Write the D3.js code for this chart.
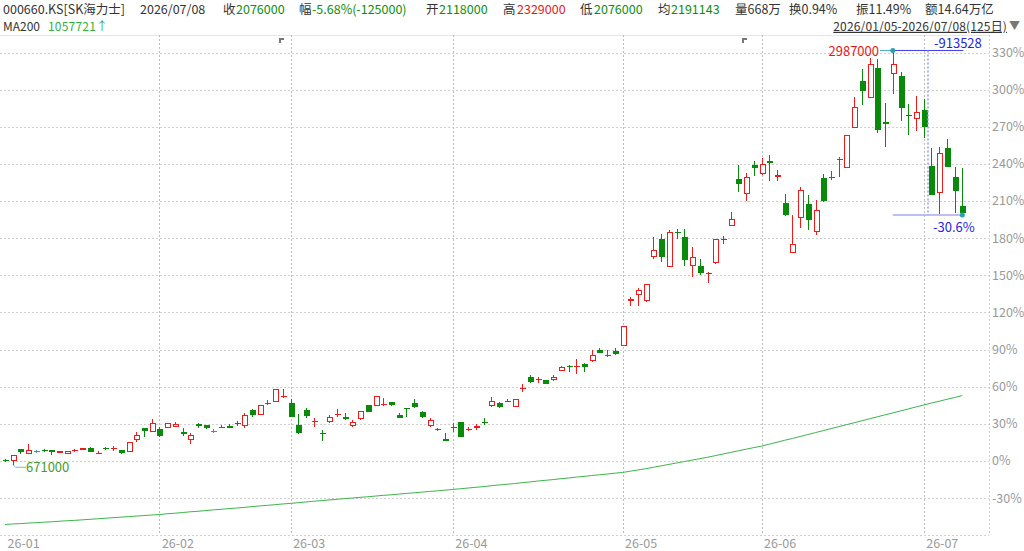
<!DOCTYPE html>
<html>
<head>
<meta charset="utf-8">
<script src="https://cdn.jsdelivr.net/npm/d3@7"></script>
<style>
  body { margin: 0; background: #fff; }
  svg { display: block; font-family: "Noto Sans CJK SC", "Noto Sans", sans-serif; }
</style>
</head>
<body>
<svg id="chart" width="1024" height="551"></svg>
<script>
// daily OHLC (KRW), 2026/01/05 - 2026/07/08, 125 sessions
const opens = [697000,693000,757000,731000,746000,753000,753000,736000,732000,752000,753000,764000,738000,764000,762000,753000,742000,807000,876000,854000,
  869000,876000,884000,852000,807000,897000,893000,859000,883000,886000,902000,889000,977000,949000,1017000,1024000,1048000,
  1016000,893000,977000,917000,848000,910000,952000,936000,889000,925000,1005000,999000,1010000,1022000,949000,990000,1014000,964000,889000,868000,815000,
  883000,908000,870000,875000,911000,1001000,1014000,1026000,996000,1098000,1160000,1143000,1145000,1143000,1195000,1225000,1223000,1233000,1250000,1311000,1283000,1307000,
  1335000,1586000,1618000,1584000,1830000,1935000,1778000,1970000,1944000,1780000,1783000,1740000,1798000,1935000,2006000,2271000,2185000,2347000,
  2296000,2371000,2280000,2136000,1854000,2048000,2131000,1970000,2272000,2281000,2381000,2330000,2554000,2815000,2722000,2890000,2588000,2857000,2842000,2625000,2605000,
  2655000,2343000,2192000,2442000,2280000,2118000];
const highs = [703000,726000,760000,787000,753000,760000,754000,748000,748000,760000,767000,768000,749000,772000,775000,755000,801000,854000,878000,925000,
  880000,904000,908000,875000,848000,902000,896000,872000,891000,899000,915000,959000,981000,1005000,1033000,1095000,1093000,
  1037000,953000,990000,935000,865000,949000,983000,959000,921000,973000,1007000,1057000,1042000,1024000,962000,991000,1039000,971000,930000,875000,850000,
  902000,910000,884000,897000,930000,1051000,1022000,1037000,1039000,1121000,1171000,1160000,1147000,1171000,1221000,1229000,1263000,1238000,1313000,1322000,1313000,1322000,
  1446000,1608000,1659000,1683000,1944000,1961000,1985000,1989000,1989000,1888000,1823000,1746000,1935000,1948000,2082000,2349000,2300000,2371000,
  2386000,2401000,2321000,2183000,2065000,2222000,2177000,2153000,2297000,2315000,2394000,2517000,2728000,2881000,2943000,2937000,2694000,2987000,2866000,2689000,2731000,
  2713000,2442000,2446000,2493000,2336000,2329000];
const lows = [688000,671000,731000,729000,736000,740000,725000,734000,731000,744000,752000,741000,729000,753000,747000,733000,740000,800000,824000,852000,
  828000,874000,880000,833000,788000,875000,872000,847000,876000,876000,889000,878000,940000,947000,1003000,1022000,1046000,
  936000,843000,932000,884000,805000,902000,940000,921000,884000,923000,966000,997000,1001000,1001000,930000,936000,987000,930000,880000,861000,804000,
  856000,826000,859000,865000,893000,992000,988000,1022000,994000,1078000,1130000,1130000,1122000,1141000,1193000,1191000,1180000,1191000,1248000,1295000,1276000,1283000,
  1333000,1556000,1561000,1582000,1821000,1802000,1776000,1933000,1783000,1723000,1733000,1686000,1796000,1905000,2004000,2194000,2143000,2283000,
  2291000,2255000,2255000,2063000,1852000,1992000,1985000,1957000,2141000,2265000,2281000,2328000,2552000,2681000,2720000,2526000,2446000,2741000,2591000,2513000,2535000,
  2498000,2179000,2074000,2336000,2076000,2076000];
const closes = [696000,725000,744000,753000,746000,747000,740000,746000,747000,753000,766000,742000,739000,757000,763000,735000,800000,837000,861000,906000,
  830000,902000,897000,841000,837000,886000,875000,859000,884000,878000,897000,947000,949000,1003000,1018000,1093000,1055000,
  938000,847000,941000,918000,847000,936000,953000,928000,910000,971000,968000,1055000,1011000,1003000,934000,987000,992000,936000,919000,869000,805000,
  884000,828000,871000,886000,910000,1029000,996000,1025000,1037000,1099000,1132000,1151000,1124000,1160000,1219000,1224000,1224000,1219000,1285000,1298000,1284000,1289000,
  1444000,1597000,1649000,1681000,1873000,1832000,1972000,1969000,1817000,1832000,1742000,1741000,1933000,1934000,2045000,2239000,2280000,2328000,
  2353000,2356000,2293000,2065000,1907000,2209000,2041000,2097000,2143000,2282000,2382000,2515000,2672000,2759000,2909000,2545000,2577000,2909000,2666000,2624000,2644000,
  2558000,2181000,2414000,2338000,2201000,2076000];
// MA200, one value per session
const ma200 = [337000,340000,342000,345000,347000,350000,352000,355000,358000,360000,363000,366000,369000,372000,375000,378000,381000,384000,387000,390000,
  393000,397000,400000,404000,408000,411000,415000,419000,422000,426000,429000,433000,437000,441000,444000,448000,452000,
  455000,459000,463000,467000,471000,474000,478000,482000,485000,489000,492000,496000,500000,503000,507000,511000,514000,518000,522000,525000,529000,
  533000,537000,541000,545000,549000,554000,558000,562000,566000,571000,575000,580000,584000,588000,593000,597000,602000,606000,611000,615000,619000,624000,
  628000,635000,642000,649000,657000,665000,673000,681000,689000,697000,705000,713000,722000,731000,740000,749000,758000,767000,
  775000,786000,797000,808000,818000,829000,840000,851000,862000,873000,884000,895000,906000,917000,928000,939000,950000,961000,972000,983000,994000,
  1005000,1016000,1026000,1037000,1047000,1057721];

const monthLabels = ["26-01", "26-02", "26-03", "26-04", "26-05", "26-06", "26-07"];
const monthDays = [20, 17, 21, 22, 18, 21, 6];
const pctTicks = [-0.3, 0, 0.3, 0.6, 0.9, 1.2, 1.5, 1.8, 2.1, 2.4, 2.7, 3.0, 3.3];
const basePrice = 692000;

const headerItems = [
  {t: "000660.KS[SK海力士]", x: 3, c: "#333"},
  {t: "2026/07/08", x: 140, c: "#333"},
  {t: "收", x: 223, c: "#333"}, {t: "2076000", x: 236, c: "#0a8f0a"},
  {t: "幅", x: 299, c: "#333"}, {t: "-5.68%(-125000)", x: 312, c: "#0a8f0a"},
  {t: "开", x: 426, c: "#333"}, {t: "2118000", x: 439, c: "#0a8f0a"},
  {t: "高", x: 503, c: "#333"}, {t: "2329000", x: 517, c: "#e81818"},
  {t: "低", x: 580, c: "#333"}, {t: "2076000", x: 594, c: "#0a8f0a"},
  {t: "均", x: 658, c: "#333"}, {t: "2191143", x: 671, c: "#0a8f0a"},
  {t: "量668万", x: 735, c: "#333"},
  {t: "换0.94%", x: 789, c: "#333"},
  {t: "振11.49%", x: 856, c: "#333"},
  {t: "额14.64万亿", x: 925, c: "#333"}
];
const peakLabel = "2987000", dropLabel = "-913528", dropPctLabel = "-30.6%";

const RED = "#f01c1c", GREEN = "#0a8a0a", FLAT = "#4a8db5";
const plotRight = 989, plotTop = 35, plotBottom = 535;

const svg = d3.select("#chart");

const x = d3.scaleLinear().domain([0, closes.length - 1]).range([5, 962.3]);
const y = d3.scaleLinear().domain([basePrice, basePrice * 4.3]).range([461, 52.5]);
const px = v => Math.round(v) + 0.5;

// header
svg.append("g").selectAll("text")
  .data(headerItems)
  .join("text")
    .attr("x", d => d.x).attr("y", 9.6).attr("dy", "0.35em")
    .style("font-size", "12.5px").style("fill", d => d.c)
    .text(d => d.t);

svg.append("text").attr("x", 3).attr("y", 26.6).attr("dy", "0.35em")
  .style("font-size", "12px").style("fill", "#333").text("MA200");
svg.append("text").attr("x", 48).attr("y", 26.6).attr("dy", "0.35em")
  .style("font-size", "12px").style("letter-spacing", "0.2px").style("fill", "#2fb23f")
  .text(`${ma200[ma200.length - 1]}↑`);

svg.append("text").attr("x", 1007).attr("y", 26.6).attr("dy", "0.35em")
  .attr("text-anchor", "end").attr("text-decoration", "underline")
  .style("font-size", "12px").style("letter-spacing", "0.15px").style("fill", "#333")
  .text("2026/01/05-2026/07/08(125日)");
svg.append("text").attr("x", 1009).attr("y", 26.6).attr("dy", "0.35em")
  .style("font-size", "11px").style("fill", "#777").text("▼");

// grid
const grid = svg.append("g").attr("shape-rendering", "crispEdges");
grid.append("line").attr("x1", 0).attr("x2", plotRight).attr("y1", px(plotTop)).attr("y2", px(plotTop))
  .style("stroke", "#e6e6e6");

grid.selectAll(".hgrid")
  .data(pctTicks)
  .join("line").attr("class", "hgrid")
    .attr("x1", 0).attr("x2", plotRight)
    .attr("y1", d => px(y(basePrice * (1 + d)))).attr("y2", d => px(y(basePrice * (1 + d))))
    .style("stroke", "#cfcfcf").style("stroke-dasharray", "2,2");

const monthStart = d3.cumsum([0, ...monthDays.slice(0, -1)]);
grid.selectAll(".vgrid")
  .data(monthStart.slice(1))
  .join("line").attr("class", "vgrid")
    .attr("x1", d => px(x(d))).attr("x2", d => px(x(d)))
    .attr("y1", plotTop).attr("y2", plotBottom)
    .style("stroke", "#bdbdbd").style("stroke-dasharray", "2,2");

grid.append("line").attr("x1", px(plotRight)).attr("x2", px(plotRight))
  .attr("y1", plotTop).attr("y2", plotBottom)
  .style("stroke", "#cfcfcf").style("stroke-dasharray", "2,2");
grid.append("line").attr("x1", 0).attr("x2", plotRight)
  .attr("y1", px(plotBottom)).attr("y2", px(plotBottom))
  .style("stroke", "#cfcfcf").style("stroke-dasharray", "2,2");

// axis labels
svg.append("g").selectAll("text")
  .data(pctTicks)
  .join("text")
    .attr("x", 992).attr("y", d => y(basePrice * (1 + d))).attr("dy", "0.35em")
    .style("font-size", "12.5px").style("fill", "#999")
    .text(d => `${Math.round(d * 100)}%`);

svg.append("g").selectAll("text")
  .data(monthLabels)
  .join("text")
    .attr("x", (d, i) => x(monthStart[i]) + 2.5).attr("y", 543.5).attr("dy", "0.35em")
    .style("font-size", "12.5px").style("fill", "#999")
    .text(d => d);

// event flags at the top
svg.append("g").selectAll("path")
  .data([36, 96])
  .join("path")
    .attr("transform", d => `translate(${Math.round(x(d)) - 4},38)`)
    .attr("d", "M0,0H5V2H2V5H0Z")
    .style("fill", "#777");

// MA200
svg.append("path")
  .datum(ma200)
  .attr("d", d3.line().x((d, i) => x(i)).y(d => y(d)))
  .style("fill", "none").style("stroke", "#3cb54a").style("stroke-width", 1);

// candles
const candles = closes.map((c, i) => ({i, o: opens[i], h: highs[i], l: lows[i], c}));
const colorOf = d => d.c > d.o ? RED : d.c < d.o ? GREEN : FLAT;

const cg = svg.append("g").attr("shape-rendering", "crispEdges");
cg.selectAll(".wick")
  .data(candles)
  .join("line").attr("class", "wick")
    .attr("x1", d => px(x(d.i))).attr("x2", d => px(x(d.i)))
    .attr("y1", d => Math.round(y(d.h))).attr("y2", d => Math.round(y(d.l)))
    .style("stroke", colorOf);

cg.selectAll(".body")
  .data(candles)
  .join("rect").attr("class", "body")
    .each(function(d) {
      const top = Math.round(y(Math.max(d.o, d.c)));
      const bot = Math.round(y(Math.min(d.o, d.c)));
      const cx = Math.round(x(d.i));
      const r = d3.select(this);
      if (d.c > d.o && bot - top >= 2) {
        r.attr("x", cx - 2 + 0.5).attr("y", top + 0.5)
         .attr("width", 5).attr("height", bot - top - 1)
         .style("fill", "#fff").style("stroke", RED);
      } else {
        r.attr("x", cx - 2).attr("y", top)
         .attr("width", 6).attr("height", Math.max(1, bot - top))
         .style("fill", colorOf(d));
      }
    });

// high / low annotations
const peak = 115, last = closes.length - 1;
const peakY = y(highs[peak]), lowY = y(lows[last]) + 1.5;
const ann = svg.append("g");
ann.append("line").attr("x1", 880).attr("x2", x(peak)).attr("y1", peakY).attr("y2", peakY)
  .style("stroke", "#4aa9c0");
ann.append("line").attr("x1", x(peak)).attr("x2", x(last) + 1).attr("y1", peakY).attr("y2", peakY)
  .style("stroke", "#3b3bf0");
ann.append("line").attr("x1", x(peak)).attr("x2", x(last)).attr("y1", lowY).attr("y2", lowY)
  .style("stroke", "#a8a8f0").style("stroke-width", 1.5);
ann.append("line").attr("x1", 928).attr("x2", 928).attr("y1", peakY).attr("y2", lowY)
  .style("stroke", "#9a9af5").style("stroke-width", 1.5).style("stroke-dasharray", "2,2");
ann.append("circle").attr("cx", x(peak)).attr("cy", peakY).attr("r", 2.5).style("fill", "#2a9fb5");
ann.append("circle").attr("cx", x(last)).attr("cy", lowY).attr("r", 2.5).style("fill", "#2a9fb5");

ann.append("text").attr("x", 879).attr("y", peakY + 1).attr("dy", "0.35em").attr("text-anchor", "end")
  .style("font-size", "13px").style("fill", "#e81818").text(peakLabel);
ann.append("text").attr("x", 934).attr("y", 43).attr("dy", "0.35em")
  .style("font-size", "13px").style("fill", "#2424e6").text(dropLabel);
ann.append("text").attr("x", 933).attr("y", 227.5).attr("dy", "0.35em")
  .style("font-size", "13px").style("fill", "#2424e6").text(dropPctLabel);

// first-session low
const lowIdx = 1, lowPtY = y(lows[lowIdx]);
ann.append("path")
  .attr("d", `M${x(lowIdx)},${lowPtY}L${x(lowIdx) + 3},${lowPtY + 2.5}H26`)
  .style("fill", "none").style("stroke", "#6fb8c8");
ann.append("text").attr("x", 26).attr("y", lowPtY + 2.5).attr("dy", "0.35em")
  .style("font-size", "13px").style("fill", "#4a9a2a").text(d3.format("d")(lows[lowIdx]));
</script>
</body>
</html>
